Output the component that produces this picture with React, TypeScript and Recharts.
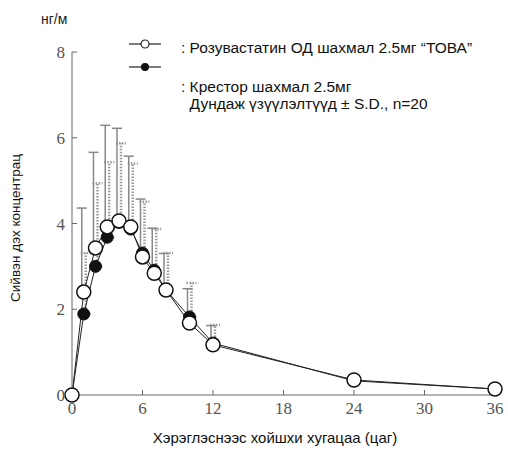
import { ComposedChart, Line, XAxis, YAxis, ErrorBar } from 'recharts';

// sampling times (h)
const TIMES = [0, 1, 2, 3, 4, 5, 6, 7, 8, 10, 12, 24, 36];
// Rosuvastatin OD 2.5mg "TOVA" (open circles)
const TOVA_MEAN = [0, 2.4, 3.43, 3.92, 4.06, 3.92, 3.22, 2.84, 2.45, 1.68, 1.17, 0.35, 0.14];
const TOVA_SD = [0, 1.96, 2.23, 2.37, 2.16, 1.65, 1.35, 1.05, 0.85, 0.8, 0.45, 0, 0];
// Crestor 2.5mg (filled circles)
const CRESTOR_MEAN = [0, 1.89, 3.0, 3.68, 4.03, 3.87, 3.31, 2.91, 2.45, 1.82, 1.21, 0.33, 0.14];
const CRESTOR_SD = [0, 1.42, 1.94, 1.75, 1.84, 1.53, 1.2, 0.96, 0.86, 0.79, 0.42, 0, 0];

const X_TICKS = [0, 6, 12, 18, 24, 30, 36];
const Y_TICKS = [0, 2, 4, 6, 8];

const data = TIMES.map((t, i) => ({
  t,
  tova: TOVA_MEAN[i],
  tovaErr: [0, TOVA_SD[i]],
  crestor: CRESTOR_MEAN[i],
  crestorErr: [0, CRESTOR_SD[i]],
}));

const AXIS = '#666';
const SANS = '"Liberation Sans", Arial, sans-serif';
const SERIF = '"Liberation Serif", "DejaVu Serif", serif';

export default function App() {
  return (
    <div style={{ position: 'relative', width: 508, height: 455, background: '#fff' }}>
      <style>{'body{margin:0}'}</style>
      <ComposedChart
        width={508}
        height={455}
        data={data}
        margin={{ top: 52, right: 13, left: 32, bottom: 30 }}
      >
        <XAxis
          dataKey="t"
          type="number"
          domain={[0, 36]}
          ticks={X_TICKS}
          height={30}
          axisLine={{ stroke: AXIS, strokeWidth: 1 }}
          tickLine={{ stroke: AXIS }}
          tickSize={-5}
          tickMargin={12}
          tick={{ fontSize: 17, fill: '#555', fontFamily: SERIF }}
        />
        <YAxis
          type="number"
          domain={[0, 8]}
          ticks={Y_TICKS}
          width={40}
          axisLine={{ stroke: AXIS, strokeWidth: 1 }}
          tickLine={{ stroke: AXIS }}
          tickSize={-5}
          tickMargin={12}
          tick={{ fontSize: 17, fill: '#555', fontFamily: SERIF }}
        />
        <Line
          dataKey="crestor"
          stroke="#222"
          strokeWidth={1}
          isAnimationActive={false}
          dot={{ r: 6, fill: '#111', stroke: '#111', strokeWidth: 1 }}
        >
          <ErrorBar
            dataKey="crestorErr"
            direction="y"
            width={5}
            stroke="#999"
            strokeWidth={2.5}
            strokeDasharray="1.5 1.5"
            transform="translate(2,0)"
          />
        </Line>
        <Line
          dataKey="tova"
          stroke="#222"
          strokeWidth={1}
          isAnimationActive={false}
          dot={{ r: 7, fill: '#fff', stroke: '#111', strokeWidth: 1.5 }}
        >
          <ErrorBar
            dataKey="tovaErr"
            direction="y"
            width={5}
            stroke="#888"
            strokeWidth={1.5}
            transform="translate(-2,0)"
          />
        </Line>
      </ComposedChart>

      {/* unit */}
      <div style={{ position: 'absolute', left: 41, top: 11, fontFamily: SANS, fontSize: 14, color: '#222' }}>
        нг/м
      </div>

      {/* legend */}
      <svg style={{ position: 'absolute', left: 128, top: 34 }} width={36} height={40}>
        <line x1={1} y1={10} x2={33} y2={10} stroke="#222" strokeWidth={1.2} />
        <circle cx={17} cy={10} r={4} fill="#fff" stroke="#222" strokeWidth={1.2} />
        <line x1={1} y1={33} x2={33} y2={33} stroke="#222" strokeWidth={1.2} />
        <circle cx={17} cy={33} r={4} fill="#111" />
      </svg>
      <div style={{ position: 'absolute', left: 181, top: 39, fontFamily: SANS, fontSize: 15.5, color: '#111', whiteSpace: 'nowrap' }}>
        : Розувастатин ОД шахмал 2.5мг “ТОВА”
      </div>
      <div style={{ position: 'absolute', left: 181, top: 78, fontFamily: SANS, fontSize: 15.5, color: '#111', whiteSpace: 'nowrap', lineHeight: '17px' }}>
        : Крестор шахмал 2.5мг
        <br />
        &nbsp; Дундаж үзүүлэлтүүд ± S.D., n=20
      </div>

      {/* y title */}
      <div
        style={{
          position: 'absolute',
          left: 15,
          top: 228,
          transform: 'translate(-50%, -50%) rotate(-90deg)',
          fontFamily: SANS,
          fontSize: 13.5,
          color: '#111',
          whiteSpace: 'nowrap',
        }}
      >
        Сийвэн дэх концентрац
      </div>

      {/* x title */}
      <div
        style={{
          position: 'absolute',
          left: 0,
          width: 550,
          top: 429,
          textAlign: 'center',
          fontFamily: SANS,
          fontSize: 15,
          color: '#111',
        }}
      >
        Хэрэглэснээс хойшхи хугацаа (цаг)
      </div>
    </div>
  );
}
